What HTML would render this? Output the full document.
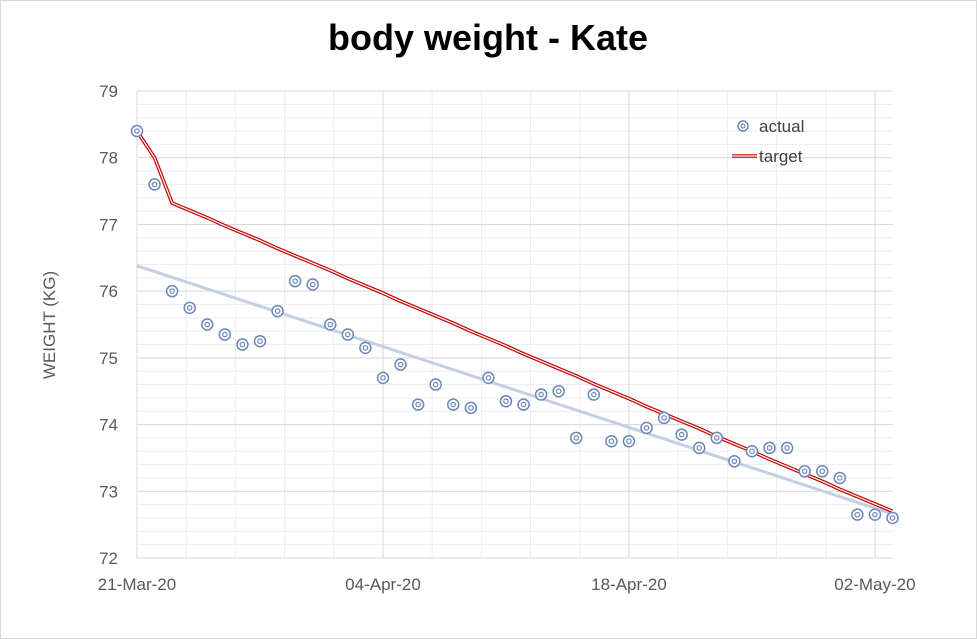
<!DOCTYPE html>
<html><head><meta charset="utf-8"><style>
body{margin:0;background:#fff}
svg{display:block;font-family:"Liberation Sans",Arial,sans-serif}
</style></head><body>
<svg id="c" width="977" height="639" viewBox="0 0 977 639">
<rect x="0.5" y="0.5" width="976" height="638" fill="#fff" stroke="#d9d9d9"/>
<text x="488" y="50" text-anchor="middle" font-size="36" font-weight="bold" fill="#000">body weight - Kate</text>
<g id="grid"></g><g id="axes"></g><g id="series"></g>
<text transform="translate(55,325) rotate(-90)" text-anchor="middle" font-size="17" fill="#595959">WEIGHT (KG)</text>
<g>
<g>
<circle cx="743" cy="126" r="5" fill="none" stroke="#6b86bd" stroke-width="1.5"/><circle cx="743" cy="126" r="2" fill="none" stroke="#6b86bd" stroke-width="1.2"/>
<text x="759" y="132" font-size="17" fill="#404040">actual</text></g>
<g>
<line x1="732" y1="156" x2="757" y2="156" stroke="#c00000" stroke-width="3.5"/><line x1="732" y1="156" x2="757" y2="156" stroke="#fff" stroke-width="1.2"/>
<text x="759" y="162" font-size="17" fill="#404040">target</text></g>
</g>
</svg>
<script>
const actual=[78.4,77.6,76.0,75.75,75.5,75.35,75.2,75.25,75.7,76.15,76.1,75.5,75.35,75.15,74.7,74.9,74.3,74.6,74.3,74.25,74.7,74.35,74.3,74.45,74.5,73.8,74.45,73.75,73.75,73.95,74.1,73.85,73.65,73.8,73.45,73.6,73.65,73.65,73.3,73.3,73.2,72.65,72.65,72.6];
const target=[78.4,78.0,77.32,77.21,77.10,76.98,76.87,76.76,76.64,76.53,76.42,76.31,76.19,76.08,75.97,75.85,75.74,75.63,75.52,75.40,75.29,75.18,75.06,74.95,74.84,74.73,74.61,74.50,74.39,74.27,74.16,74.05,73.94,73.82,73.71,73.60,73.48,73.37,73.26,73.15,73.03,72.92,72.81,72.70];
const trend=[76.38,72.66];
const yTicks=[72,73,74,75,76,77,78,79];
const xTickDays=[0,14,28,42];
const xTickLabels=["21-Mar-20","04-Apr-20","18-Apr-20","02-May-20"];
const NS="http://www.w3.org/2000/svg";
const X0=137,DAY=17.57,Y0=558,KG=66.71,XR=893;
const x=d=>X0+d*DAY, y=v=>Y0-(v-72)*KG;
function mk(t,a,p){const e=document.createElementNS(NS,t);for(const k in a)e.setAttribute(k,a[k]);p.appendChild(e);return e;}
const grid=document.getElementById('grid'),axes=document.getElementById('axes'),ser=document.getElementById('series');
// minor horizontal
for(let v=72;v<=79.001;v+=0.2){const l=mk('line',{x1:X0,x2:XR,y1:y(v),y2:y(v),stroke:'#ededed','stroke-width':1},grid);

}
// minor vertical
for(let d=0;d<=43;d+=2.8){const l=mk('line',{x1:x(d),x2:x(d),y1:y(72),y2:y(79),stroke:'#ededed','stroke-width':1},grid);

}
yTicks.forEach(v=>{const l=mk('line',{x1:X0,x2:XR,y1:y(v),y2:y(v),stroke:'#d9d9d9','stroke-width':1},grid);


const t=mk('text',{x:118,y:y(v)+6,'text-anchor':'end','font-size':17,fill:'#595959'},axes);t.textContent=v;

});
xTickDays.forEach((d,i)=>{const l=mk('line',{x1:x(d),x2:x(d),y1:y(72),y2:y(79),stroke:'#d9d9d9','stroke-width':1},grid);


const t=mk('text',{x:x(d),y:590,'text-anchor':'middle','font-size':17,fill:'#595959'},axes);t.textContent=xTickLabels[i];

});
const tl=mk('line',{x1:x(0),y1:y(trend[0]),x2:x(actual.length-1),y2:y(trend[1]),stroke:'#c5cfe2','stroke-width':3},ser);


const pts=target.map((v,i)=>x(i)+','+y(v)).join(' ');
const t1=mk('polyline',{points:pts,fill:'none',stroke:'#c00000','stroke-width':3.6},ser);


const t2=mk('polyline',{points:pts,fill:'none',stroke:'#fff','stroke-width':1.2},ser);


actual.forEach((v,i)=>{const g=mk('g',{},ser);


mk('circle',{cx:x(i),cy:y(v),r:5.5,fill:'#fff',stroke:'#6b86bd','stroke-width':1.5},g);
mk('circle',{cx:x(i),cy:y(v),r:2.2,fill:'none',stroke:'#6b86bd','stroke-width':1.2},g);});
</script>
</body></html>
